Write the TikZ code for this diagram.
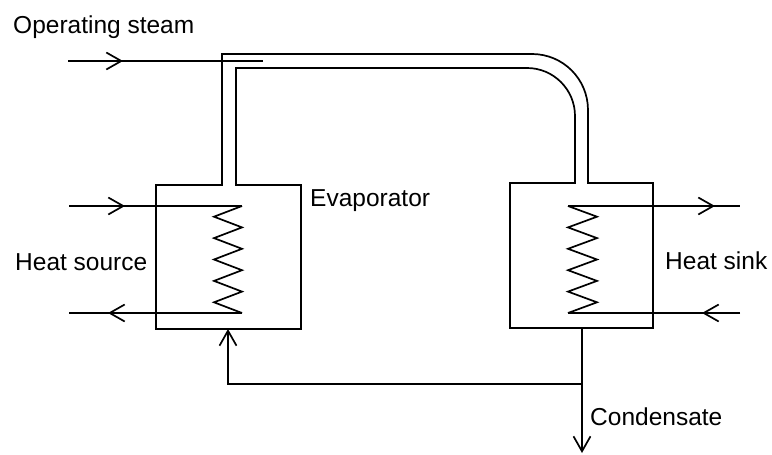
\documentclass[tikz,border=0pt]{standalone}
\usepackage{fontspec}
\setmainfont{Liberation Sans}
\usetikzlibrary{arrows.meta,decorations.markings}

\tikzset{
	barb/.tip={Straight Barb[length=15pt,width=17pt]},
	pipe/.style={line width=1.7pt, line join=miter},
	flow/.style={line width=1.7pt},
	flow at/.style={flow, postaction={decorate, decoration={markings, mark=at position #1 with {\arrow{barb}}}}},
	txt/.style={anchor=base west, inner sep=0pt, font=\fontsize{24.5}{29}\selectfont}
}

\begin{document}
\begin{tikzpicture}[x=1pt, y=-1pt]
	\useasboundingbox (0,0) rectangle (772,455);

	\coordinate (steamIn) at (68,61);
	\coordinate (nozzle) at (263,61);
	\coordinate (srcIn) at (69,206);
	\coordinate (srcOut) at (69,313);
	\coordinate (evapTop) at (242,206);
	\coordinate (evapBot) at (242,313);
	\coordinate (condTop) at (568,206);
	\coordinate (condBot) at (568,313);
	\coordinate (sinkOut) at (740,206);
	\coordinate (sinkIn) at (740,313);
	\coordinate (evapFeed) at (228,329);
	\coordinate (condDrain) at (582,328);
	\coordinate (split) at (582,384);
	\coordinate (drain) at (582,453);

	% vessels and steam pipe
	\draw[pipe] (236,185) -- (301,185) -- (301,329) -- (156,329) -- (156,185) -- (222,185)
		-- (222,54) -- (532,54) .. controls (563,54) and (588,79) .. (588,110)
		-- (588,183) -- (653,183) -- (653,328) -- (510,328) -- (510,183) -- (575,183)
		-- (575,116) .. controls (575,89.5) and (553.5,68) .. (527,68) -- (236,68) -- cycle;

	% coils
	\draw[pipe] (evapTop) \foreach \i [evaluate=\i as \cx using {242-28*mod(\i,2)}] in {1,...,10} { -- (\cx, 206+\i*10.7) };
	\draw[pipe] (condTop) \foreach \i [evaluate=\i as \cx using {568+29*mod(\i,2)}] in {1,...,10} { -- (\cx, 206+\i*10.7) };

	\draw[flow at=55pt] (steamIn) -- (nozzle);
	\draw[flow at=56pt] (srcIn) -- (evapTop);
	\draw[flow at=134pt] (evapBot) -- (srcOut);
	\draw[flow at=147pt] (condTop) -- (sinkOut);
	\draw[flow at=38pt] (sinkIn) -- (condBot);

	\draw[flow, -barb] (condDrain) -- (drain);
	\draw[flow, -barb] (split) -| (evapFeed);

	\node[txt] (steamLbl) at (13,33) {Operating steam};
	\node[txt] (srcLbl) at (15,270) {Heat source};
	\node[txt] (evapLbl) at (310,206) {Evaporator};
	\node[txt] (sinkLbl) at (665,269) {Heat sink};
	\node[txt] (condLbl) at (590,425) {Condensate};
\end{tikzpicture}
\end{document}
